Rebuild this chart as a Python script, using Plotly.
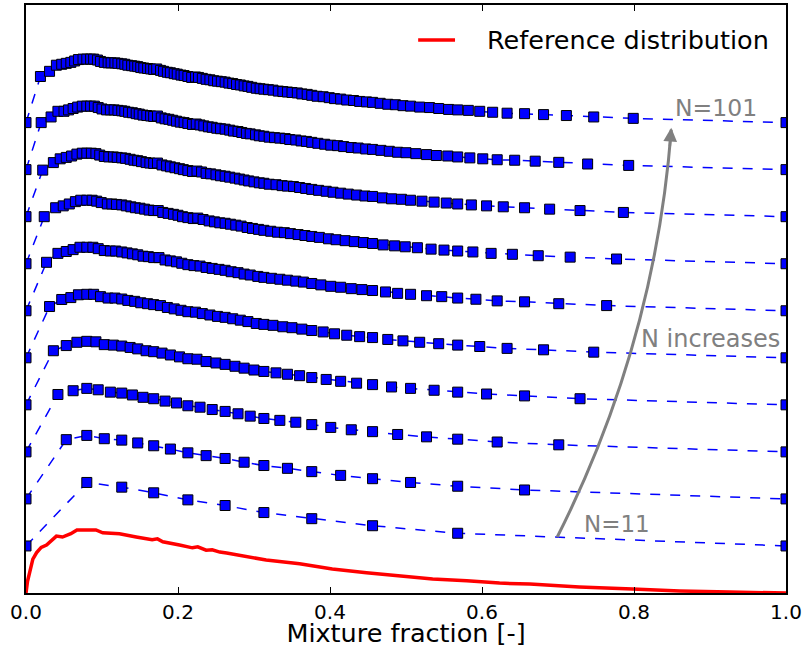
import plotly.graph_objects as go

# ---------------- data ----------------
# Reference distribution (red curve)
red_x = [0.0, 0.002, 0.005, 0.009, 0.014, 0.020, 0.027, 0.033, 0.040, 0.048, 0.059, 0.067,
         0.092, 0.101, 0.123, 0.145, 0.166, 0.173, 0.180, 0.202, 0.219, 0.226, 0.237, 0.245,
         0.255, 0.264, 0.285, 0.316, 0.360, 0.403, 0.448, 0.491, 0.535, 0.580, 0.623, 0.663,
         0.728, 0.798, 0.860, 0.926, 1.0]
red_y = [0.0, 0.25, 0.45, 0.72, 0.86, 0.97, 1.02, 1.11, 1.21, 1.19, 1.26, 1.34,
         1.34, 1.28, 1.26, 1.19, 1.13, 1.15, 1.09, 1.02, 0.96, 0.98, 0.91, 0.92,
         0.87, 0.85, 0.79, 0.70, 0.62, 0.51, 0.43, 0.36, 0.30, 0.26, 0.21, 0.19,
         0.13, 0.085, 0.043, 0.02, 0.0]

# Sampled distributions, N = 101
x_n101 = [0.000, 0.019, 0.031, 0.040, 0.047, 0.053, 0.059, 0.064, 0.069, 0.075,
          0.080, 0.085, 0.089, 0.094, 0.098, 0.103, 0.108, 0.112, 0.117, 0.121,
          0.126, 0.130, 0.134, 0.139, 0.143, 0.147, 0.151, 0.155, 0.160, 0.164,
          0.168, 0.172, 0.177, 0.181, 0.186, 0.190, 0.195, 0.199, 0.204, 0.208,
          0.213, 0.218, 0.223, 0.227, 0.232, 0.237, 0.242, 0.247, 0.252, 0.257,
          0.262, 0.267, 0.272, 0.277, 0.282, 0.287, 0.292, 0.297, 0.303, 0.308,
          0.313, 0.319, 0.325, 0.332, 0.338, 0.344, 0.350, 0.357, 0.363, 0.370,
          0.376, 0.383, 0.391, 0.399, 0.406, 0.414, 0.422, 0.431, 0.439, 0.448,
          0.456, 0.466, 0.476, 0.486, 0.496, 0.506, 0.518, 0.531, 0.543, 0.556,
          0.568, 0.582, 0.597, 0.614, 0.633, 0.656, 0.681, 0.711, 0.747, 0.799, 1.000]
y_n101 = [0.00, 0.98, 1.09, 1.22, 1.24, 1.26, 1.28, 1.31, 1.34, 1.35,
          1.35, 1.35, 1.35, 1.33, 1.30, 1.28, 1.27, 1.27, 1.27, 1.26,
          1.25, 1.24, 1.22, 1.21, 1.20, 1.19, 1.17, 1.16, 1.15, 1.14,
          1.13, 1.14, 1.11, 1.09, 1.07, 1.06, 1.04, 1.03, 1.01, 1.00,
          0.98, 0.96, 0.97, 0.96, 0.94, 0.92, 0.91, 0.89, 0.88, 0.87,
          0.86, 0.84, 0.83, 0.81, 0.80, 0.78, 0.77, 0.75, 0.73, 0.72,
          0.71, 0.70, 0.69, 0.67, 0.66, 0.65, 0.64, 0.63, 0.61, 0.60,
          0.58, 0.56, 0.55, 0.53, 0.51, 0.50, 0.48, 0.47, 0.45, 0.44,
          0.43, 0.41, 0.39, 0.38, 0.36, 0.35, 0.33, 0.32, 0.30, 0.28,
          0.27, 0.26, 0.24, 0.22, 0.20, 0.19, 0.17, 0.15, 0.12, 0.09, 0.00]

# N = 91
x_n91 = [0.000, 0.020, 0.033, 0.042, 0.050, 0.056, 0.062, 0.068, 0.074, 0.080,
         0.085, 0.090, 0.095, 0.100, 0.106, 0.111, 0.116, 0.121, 0.126, 0.130,
         0.135, 0.140, 0.145, 0.149, 0.154, 0.159, 0.164, 0.168, 0.173, 0.178,
         0.183, 0.188, 0.193, 0.198, 0.203, 0.208, 0.213, 0.219, 0.224, 0.229,
         0.234, 0.240, 0.245, 0.251, 0.256, 0.262, 0.268, 0.273, 0.279, 0.284,
         0.290, 0.295, 0.302, 0.307, 0.313, 0.320, 0.327, 0.334, 0.341, 0.347,
         0.355, 0.362, 0.369, 0.376, 0.384, 0.393, 0.401, 0.410, 0.418, 0.428,
         0.437, 0.447, 0.456, 0.467, 0.478, 0.489, 0.500, 0.513, 0.527, 0.540,
         0.555, 0.568, 0.584, 0.601, 0.620, 0.643, 0.670, 0.701, 0.739, 0.793, 1.000]
y_n91 = [0.00, 1.00, 1.12, 1.24, 1.24, 1.27, 1.30, 1.33, 1.35, 1.35,
         1.35, 1.35, 1.32, 1.29, 1.27, 1.27, 1.27, 1.26, 1.25, 1.24,
         1.22, 1.21, 1.19, 1.18, 1.16, 1.15, 1.14, 1.13, 1.14, 1.10,
         1.08, 1.07, 1.05, 1.03, 1.01, 1.00, 0.98, 0.96, 0.97, 0.95,
         0.93, 0.91, 0.90, 0.88, 0.87, 0.86, 0.84, 0.82, 0.81, 0.79,
         0.77, 0.76, 0.74, 0.72, 0.71, 0.69, 0.68, 0.67, 0.66, 0.64,
         0.63, 0.61, 0.60, 0.58, 0.56, 0.54, 0.52, 0.51, 0.49, 0.47,
         0.46, 0.44, 0.43, 0.41, 0.39, 0.37, 0.36, 0.34, 0.32, 0.30,
         0.29, 0.27, 0.25, 0.23, 0.21, 0.20, 0.18, 0.155, 0.12, 0.09, 0.00]

# N = 81
x_n81 = [0.000, 0.022, 0.036, 0.045, 0.053, 0.060, 0.067, 0.074, 0.080,
         0.086, 0.092, 0.097, 0.103, 0.109, 0.115, 0.120, 0.126,
         0.131, 0.137, 0.142, 0.147, 0.152, 0.158, 0.163, 0.168,
         0.173, 0.179, 0.185, 0.190, 0.196, 0.202, 0.207, 0.213,
         0.219, 0.225, 0.231, 0.237, 0.243, 0.250, 0.256, 0.262,
         0.268, 0.275, 0.281, 0.287, 0.293, 0.300, 0.307, 0.313,
         0.320, 0.329, 0.337, 0.344, 0.352, 0.360, 0.368, 0.376,
         0.385, 0.395, 0.404, 0.414, 0.424, 0.435, 0.446, 0.456,
         0.469, 0.481, 0.494, 0.506, 0.521, 0.537, 0.553, 0.568,
         0.586, 0.606, 0.628, 0.656, 0.689, 0.729, 0.786, 1.000]
y_n81 = [0.00, 0.99, 1.15, 1.23, 1.26, 1.29, 1.33, 1.35, 1.35,
         1.35, 1.34, 1.31, 1.28, 1.27, 1.27, 1.26, 1.25,
         1.24, 1.22, 1.20, 1.19, 1.17, 1.15, 1.14, 1.13,
         1.14, 1.10, 1.08, 1.06, 1.04, 1.02, 1.00, 0.98,
         0.96, 0.97, 0.95, 0.92, 0.91, 0.89, 0.87, 0.86,
         0.84, 0.82, 0.80, 0.78, 0.76, 0.74, 0.72, 0.71,
         0.69, 0.68, 0.66, 0.65, 0.64, 0.62, 0.60, 0.58,
         0.56, 0.54, 0.52, 0.50, 0.48, 0.46, 0.44, 0.43,
         0.40, 0.38, 0.37, 0.35, 0.33, 0.31, 0.29, 0.27,
         0.25, 0.23, 0.21, 0.19, 0.16, 0.13, 0.09, 0.00]

# N = 71
x_n71 = [0.000, 0.024, 0.039, 0.049, 0.057, 0.065, 0.072, 0.080, 0.087, 0.093,
         0.099, 0.107, 0.113, 0.119, 0.126, 0.132, 0.138, 0.144, 0.150, 0.156,
         0.162, 0.168, 0.174, 0.180, 0.187, 0.194, 0.200, 0.206, 0.213, 0.220,
         0.226, 0.233, 0.241, 0.248, 0.255, 0.262, 0.269, 0.276, 0.283, 0.291,
         0.298, 0.306, 0.313, 0.322, 0.331, 0.340, 0.348, 0.358, 0.367, 0.376,
         0.386, 0.398, 0.408, 0.420, 0.432, 0.444, 0.456, 0.470, 0.485, 0.499,
         0.515, 0.533, 0.550, 0.568, 0.588, 0.612, 0.640, 0.674, 0.716, 0.777, 1.000]
y_n71 = [0.00, 1.00, 1.19, 1.23, 1.27, 1.32, 1.35, 1.35, 1.35, 1.33,
         1.30, 1.27, 1.27, 1.26, 1.25, 1.23, 1.21, 1.19, 1.18, 1.16,
         1.14, 1.13, 1.13, 1.09, 1.07, 1.05, 1.03, 1.00, 0.98, 0.96,
         0.97, 0.94, 0.91, 0.89, 0.87, 0.86, 0.84, 0.82, 0.80, 0.77,
         0.75, 0.73, 0.71, 0.69, 0.67, 0.66, 0.64, 0.62, 0.60, 0.58,
         0.56, 0.53, 0.51, 0.49, 0.47, 0.45, 0.43, 0.40, 0.38, 0.36,
         0.34, 0.31, 0.29, 0.27, 0.25, 0.22, 0.20, 0.17, 0.14, 0.10, 0.00]

# N = 61
x_n61 = [0.000, 0.027, 0.042, 0.053, 0.062, 0.071, 0.080, 0.088, 0.095, 0.103,
         0.111, 0.118, 0.126, 0.133, 0.140, 0.147, 0.154, 0.161, 0.168, 0.175,
         0.183, 0.190, 0.198, 0.205, 0.213, 0.221, 0.229, 0.237, 0.245, 0.254,
         0.262, 0.270, 0.279, 0.287, 0.295, 0.305, 0.313, 0.323, 0.334, 0.344,
         0.355, 0.365, 0.376, 0.388, 0.401, 0.414, 0.428, 0.442, 0.456, 0.473,
         0.489, 0.506, 0.527, 0.547, 0.568, 0.592, 0.620, 0.656, 0.701, 0.764, 1.000]
y_n61 = [0.00, 1.03, 1.22, 1.26, 1.30, 1.35, 1.35, 1.35, 1.32, 1.28,
         1.27, 1.27, 1.25, 1.23, 1.21, 1.19, 1.16, 1.15, 1.13, 1.13,
         1.08, 1.06, 1.04, 1.01, 0.98, 0.96, 0.95, 0.92, 0.90, 0.88,
         0.86, 0.83, 0.81, 0.78, 0.76, 0.73, 0.71, 0.69, 0.67, 0.65,
         0.63, 0.61, 0.58, 0.55, 0.52, 0.50, 0.47, 0.45, 0.43, 0.40,
         0.37, 0.35, 0.32, 0.30, 0.27, 0.245, 0.21, 0.19, 0.15, 0.11, 0.00]

# Coarser grids are nested subsets of the finer ones
series = [
    (11, x_n81[::8], y_n81[::8]),
    (21, x_n81[::4], y_n81[::4]),
    (31, x_n61[::2], y_n61[::2]),
    (41, x_n81[::2], y_n81[::2]),
    (51, x_n101[::2], y_n101[::2]),
    (61, x_n61, y_n61),
    (71, x_n71, y_n71),
    (81, x_n81, y_n81),
    (91, x_n91, y_n91),
    (101, x_n101, y_n101),
]

x_ticks = [0.0, 0.2, 0.4, 0.6, 0.8, 1.0]

# ---------------- figure ----------------
FONT = "DejaVu Sans"
fig = go.Figure()

fig.add_trace(go.Scatter(
    x=red_x, y=red_y, mode="lines",
    line=dict(color="#ff0000", width=3.5),
    name="Reference distribution", showlegend=False, hoverinfo="skip"))

for i, (n, xs, ys) in enumerate(series, start=1):
    fig.add_trace(go.Scatter(
        x=xs, y=[v + i for v in ys], mode="lines+markers",
        line=dict(color="#0000ff", width=1.5, dash="10px,10px"),
        marker=dict(symbol="square", size=10, color="#0000ff",
                    line=dict(color="black", width=1)),
        name=f"N={n}", showlegend=False))

# Curved arrow "N increases"
fig.add_shape(type="path", xref="x", yref="y",
              path="M 0.699,1.19 Q 0.8275,5.30 0.849,9.85",
              line=dict(color="#808080", width=3))
fig.add_annotation(x=0.849, y=9.89, xref="x", yref="y", ax=-1.5, ay=20,
                   axref="pixel", ayref="pixel", text="", showarrow=True,
                   arrowhead=2, arrowsize=1.1, arrowwidth=2.5, arrowcolor="#808080")

fig.add_annotation(x=0.851, y=10.32, text="N=101", showarrow=False,
                   xanchor="left", yanchor="middle",
                   font=dict(family=FONT, size=23.5, color="#808080"))
fig.add_annotation(x=0.807, y=5.41, text="N increases", showarrow=False,
                   xanchor="left", yanchor="middle",
                   font=dict(family=FONT, size=24, color="#808080"))
fig.add_annotation(x=0.731, y=1.47, text="N=11", showarrow=False,
                   xanchor="left", yanchor="middle",
                   font=dict(family=FONT, size=23, color="#808080"))

# Legend (drawn manually to match position)
fig.add_shape(type="line", xref="paper", yref="paper",
              x0=0.516, x1=0.5645, y0=0.9405, y1=0.9405,
              line=dict(color="#ff0000", width=3.5))
fig.add_annotation(x=0.604, y=0.9405, xref="paper", yref="paper",
                   text="Reference distribution", showarrow=False,
                   xanchor="left", yanchor="middle",
                   font=dict(family=FONT, size=25.5, color="black"))

fig.update_layout(
    width=804, height=648,
    margin=dict(l=26, r=18, t=5, b=55),
    paper_bgcolor="white", plot_bgcolor="white",
    font=dict(family=FONT, color="black"),
    showlegend=False,
    xaxis=dict(range=[0, 1], tickvals=x_ticks,
               ticktext=[f"{v:.1f}" for v in x_ticks],
               ticks="inside", ticklen=6, tickwidth=1, tickcolor="black",
               showline=True, linecolor="black", linewidth=1.5, mirror="ticks",
               showgrid=False, zeroline=False,
               tickfont=dict(family=FONT, size=20, color="black"),
               title=dict(text="Mixture fraction [-]", standoff=14,
                          font=dict(family=FONT, size=25.5, color="black")),
               automargin=False),
    yaxis=dict(range=[0, 12.5], showticklabels=False, ticks="",
               showline=True, linecolor="black", linewidth=1.5, mirror=True,
               showgrid=False, zeroline=False, automargin=False),
)

fig.write_html("out.html", config={"displayModeBar": False},
               post_script="document.body.style.margin='0px';"
                           "document.body.style.overflow='hidden';")
